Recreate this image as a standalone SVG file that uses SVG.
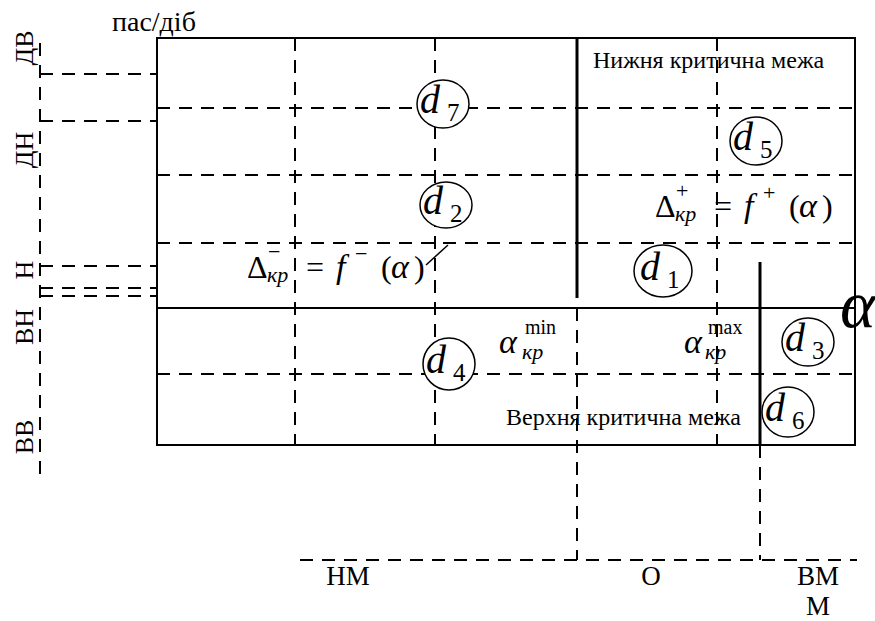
<svg xmlns="http://www.w3.org/2000/svg" width="875" height="621" viewBox="0 0 875 621">
<style>
.frame{fill:none;stroke:#000;stroke-width:2}
.solid{stroke:#000;stroke-width:2;fill:none}
.thick{stroke:#000;stroke-width:3;fill:none}
.dash{stroke:#000;stroke-width:2;stroke-dasharray:13 9;fill:none}
.thin{stroke:#000;stroke-width:1.5;fill:none}
.circ{fill:#fff;stroke:#000;stroke-width:1.5}
text{font-family:"Liberation Serif","Times New Roman",serif;fill:#000}
.lbl{font-size:24px}
.ax{font-size:26px}
.bx{font-size:27px}
.d{font-size:40px;font-style:italic}
.sub{font-size:25px}
.m{font-size:32px}
.mi{font-size:34px;font-style:italic}
.sm{font-size:22px}
.smi{font-size:22px;font-style:italic}
.sup{font-size:20px}
</style>
<g id="connectors">
<rect class="frame" x="157" y="38" width="698" height="407"/>
<line class="solid" x1="157" y1="308" x2="855" y2="308"/>
<line class="thick" x1="577" y1="38" x2="577" y2="298"/>
<line class="thick" x1="760" y1="262" x2="760" y2="445"/>
<line class="dash" x1="157" y1="108" x2="855" y2="108"/>
<line class="dash" x1="157" y1="175" x2="855" y2="175"/>
<line class="dash" x1="157" y1="243" x2="855" y2="243"/>
<line class="dash" x1="157" y1="374" x2="855" y2="374"/>
<line class="dash" x1="295" y1="38" x2="295" y2="445"/>
<line class="dash" x1="435" y1="38" x2="435" y2="445"/>
<line class="dash" x1="717" y1="38" x2="717" y2="445"/>
<line class="dash" x1="577" y1="308" x2="577" y2="560"/>
<line class="dash" x1="760" y1="445" x2="760" y2="560"/>
<line class="dash" x1="300" y1="560" x2="857" y2="560"/>
<line class="dash" x1="40" y1="43" x2="40" y2="475"/>
<line class="dash" x1="40" y1="74" x2="157" y2="74"/>
<line class="dash" x1="40" y1="121" x2="157" y2="121"/>
<line class="dash" x1="40" y1="266" x2="157" y2="266"/>
<line class="dash" x1="40" y1="288" x2="157" y2="288"/>
<line class="dash" x1="40" y1="296" x2="157" y2="296"/>
<line class="thin" x1="426" y1="265" x2="448" y2="245"/>
</g>
<g id="axis-labels">
<text class="bx" x="112" y="31" style="font-size:28px">пас/діб</text>
<text class="ax" text-anchor="middle" transform="translate(33,48) rotate(-90)">ДВ</text>
<text class="ax" text-anchor="middle" transform="translate(33,150) rotate(-90)">ДН</text>
<text class="ax" text-anchor="middle" transform="translate(33,270) rotate(-90)">Н</text>
<text class="ax" text-anchor="middle" transform="translate(33,327) rotate(-90)">ВН</text>
<text class="ax" text-anchor="middle" transform="translate(33,437) rotate(-90)">ВВ</text>
<text class="bx" text-anchor="middle" x="348" y="585">НМ</text>
<text class="bx" text-anchor="middle" x="651" y="585">О</text>
<text class="bx" text-anchor="middle" x="818" y="585">ВМ</text>
<text class="bx" text-anchor="middle" x="818" y="615">М</text>
</g>
<g id="lower-limit"><text class="lbl" x="593" y="68">Нижня критична межа</text></g>
<g id="upper-limit"><text class="lbl" x="506" y="425">Верхня критична межа</text></g>
<g id="formula-minus">
<text class="m" x="247" y="278">Δ</text>
<text class="sm" x="268" y="259">−</text>
<text class="smi" x="267" y="282">кр</text>
<text class="m" x="306" y="278">=</text>
<text class="mi" x="336" y="278">f</text>
<text class="sm" x="355" y="261">−</text>
<text class="m" x="381" y="278">(</text>
<text class="mi" x="391" y="278">α</text>
<text class="m" x="414" y="278">)</text>
</g>
<g id="formula-plus">
<text class="m" x="655" y="217">Δ</text>
<text class="sm" x="676" y="198">+</text>
<text class="smi" x="675" y="221">кр</text>
<text class="m" x="714" y="217">=</text>
<text class="mi" x="744" y="217">f</text>
<text class="sm" x="763" y="200">+</text>
<text class="m" x="789" y="217">(</text>
<text class="mi" x="799" y="217">α</text>
<text class="m" x="822" y="217">)</text>
</g>
<g id="alpha-min">
<text class="mi" x="499" y="353">α</text>
<text class="sup" x="525" y="334">min</text>
<text class="smi" x="522" y="359">кр</text>
</g>
<g id="alpha-max">
<text class="mi" x="684" y="353">α</text>
<text class="sup" x="708" y="334">max</text>
<text class="smi" x="705" y="359">кр</text>
</g>
<g id="alpha-axis"><text x="840" y="327" style="font-size:68px;font-style:italic">α</text></g>
<g id="d7"><ellipse class="circ" cx="443" cy="104" rx="26" ry="24"/><text class="d" x="420" y="113">d</text><text class="sub" x="447" y="121">7</text></g>
<g id="d5"><ellipse class="circ" cx="756" cy="141" rx="26" ry="24"/><text class="d" x="733" y="150">d</text><text class="sub" x="760" y="158">5</text></g>
<g id="d2"><ellipse class="circ" cx="446" cy="205" rx="26" ry="23"/><text class="d" x="423" y="214">d</text><text class="sub" x="450" y="222">2</text></g>
<g id="d1"><ellipse class="circ" cx="663" cy="271" rx="29" ry="26"/><text class="d" x="640" y="280">d</text><text class="sub" x="667" y="288">1</text></g>
<g id="d3"><ellipse class="circ" cx="808" cy="342" rx="26" ry="24"/><text class="d" x="785" y="351">d</text><text class="sub" x="812" y="359">3</text></g>
<g id="d4"><ellipse class="circ" cx="449" cy="364" rx="26" ry="26"/><text class="d" x="426" y="373">d</text><text class="sub" x="453" y="381">4</text></g>
<g id="d6"><ellipse class="circ" cx="788" cy="412" rx="26" ry="25"/><text class="d" x="765" y="421">d</text><text class="sub" x="792" y="429">6</text></g>
</svg>
